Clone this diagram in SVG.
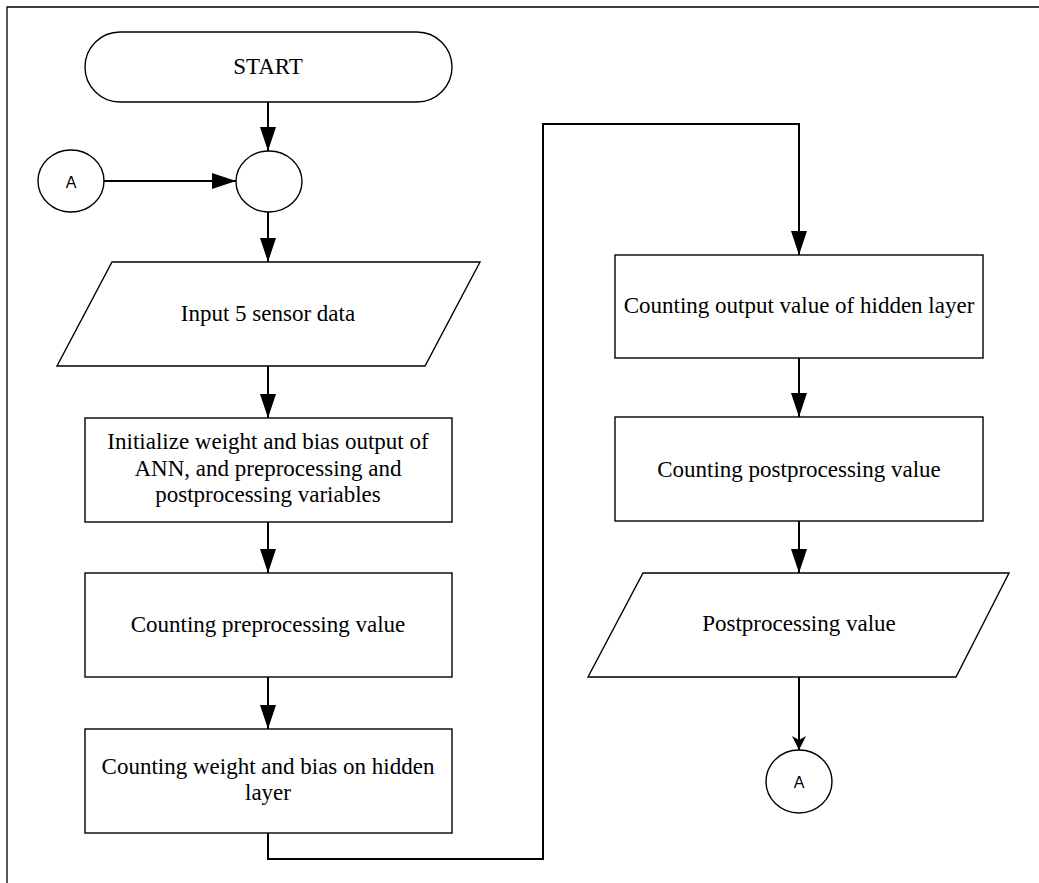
<svg xmlns="http://www.w3.org/2000/svg" width="1039" height="883" viewBox="0 0 1039 883">
<style>
.shape{fill:#fff;stroke:#000;stroke-width:1.4}
.conn{fill:none;stroke:#000;stroke-width:2}
.t{font-family:"Liberation Serif","Times New Roman",serif;font-size:23px;fill:#000;text-anchor:middle}
.s{font-family:"Liberation Sans",Arial,sans-serif;font-size:16px;fill:#000;text-anchor:middle}
</style>
<defs>
<marker id="arr" markerUnits="userSpaceOnUse" markerWidth="24" markerHeight="16" refX="24" refY="8" orient="auto">
<path d="M0,0 L24,8 L0,16 Z" fill="#000"/>
</marker>
<marker id="arr2" markerUnits="userSpaceOnUse" markerWidth="14" markerHeight="14" refX="14" refY="7" orient="auto">
<path d="M0,0 L14,7 L0,14 L4,7 Z" fill="#000"/>
</marker>
</defs>
<rect width="1039" height="883" fill="#fff"/>
<path d="M7,883 V7 H1039" fill="none" stroke="#000" stroke-width="1.3"/>

<g id="connectors">
<line class="conn" x1="268" y1="102" x2="268" y2="151" marker-end="url(#arr)"/>
<line class="conn" x1="104" y1="181" x2="236" y2="181" marker-end="url(#arr)"/>
<line class="conn" x1="268" y1="212" x2="268" y2="262" marker-end="url(#arr)"/>
<line class="conn" x1="268" y1="366" x2="268" y2="418" marker-end="url(#arr)"/>
<line class="conn" x1="268" y1="522" x2="268" y2="573" marker-end="url(#arr)"/>
<line class="conn" x1="268" y1="677" x2="268" y2="729" marker-end="url(#arr)"/>
<polyline class="conn" points="268,833 268,859 543,859 543,124 799,124 799,255" marker-end="url(#arr)"/>
<line class="conn" x1="799" y1="358" x2="799" y2="417" marker-end="url(#arr)"/>
<line class="conn" x1="799" y1="521" x2="799" y2="573" marker-end="url(#arr)"/>
<line class="conn" x1="799" y1="677" x2="799" y2="750" marker-end="url(#arr2)"/>
</g>

<g id="start">
<rect class="shape" x="85" y="32" width="367" height="70" rx="35" ry="35"/>
<text class="t" x="268" y="74">START</text>
</g>
<g id="connector-a-in">
<ellipse class="shape" cx="71" cy="181" rx="33" ry="31"/>
<text class="s" x="71" y="188">A</text>
</g>
<g id="junction">
<ellipse class="shape" cx="269" cy="181.5" rx="33" ry="30.5"/>
</g>
<g id="input">
<polygon class="shape" points="112,262 480,262 425,366 57,366"/>
<text class="t" x="268" y="321">Input 5 sensor data</text>
</g>
<g id="initialize">
<rect class="shape" x="85" y="418" width="367" height="104"/>
<text class="t" x="268" y="449">Initialize weight and bias output of</text>
<text class="t" x="268" y="476">ANN, and preprocessing and</text>
<text class="t" x="268" y="502">postprocessing variables</text>
</g>
<g id="preprocessing">
<rect class="shape" x="85" y="573" width="367" height="104"/>
<text class="t" x="268" y="632">Counting preprocessing value</text>
</g>
<g id="weight-bias">
<rect class="shape" x="85" y="729" width="367" height="104"/>
<text class="t" x="268" y="774">Counting weight and bias on hidden</text>
<text class="t" x="268" y="800">layer</text>
</g>
<g id="hidden-output">
<rect class="shape" x="615" y="255" width="368" height="103"/>
<text class="t" x="799" y="313">Counting output value of hidden layer</text>
</g>
<g id="postprocessing">
<rect class="shape" x="615" y="417" width="368" height="104"/>
<text class="t" x="799" y="477">Counting postprocessing value</text>
</g>
<g id="post-value">
<polygon class="shape" points="643,573 1009,573 956,677 588,677"/>
<text class="t" x="799" y="631">Postprocessing value</text>
</g>
<g id="connector-a-out">
<ellipse class="shape" cx="799" cy="781.5" rx="33" ry="31.5"/>
<text class="s" x="799" y="788">A</text>
</g>
</svg>
